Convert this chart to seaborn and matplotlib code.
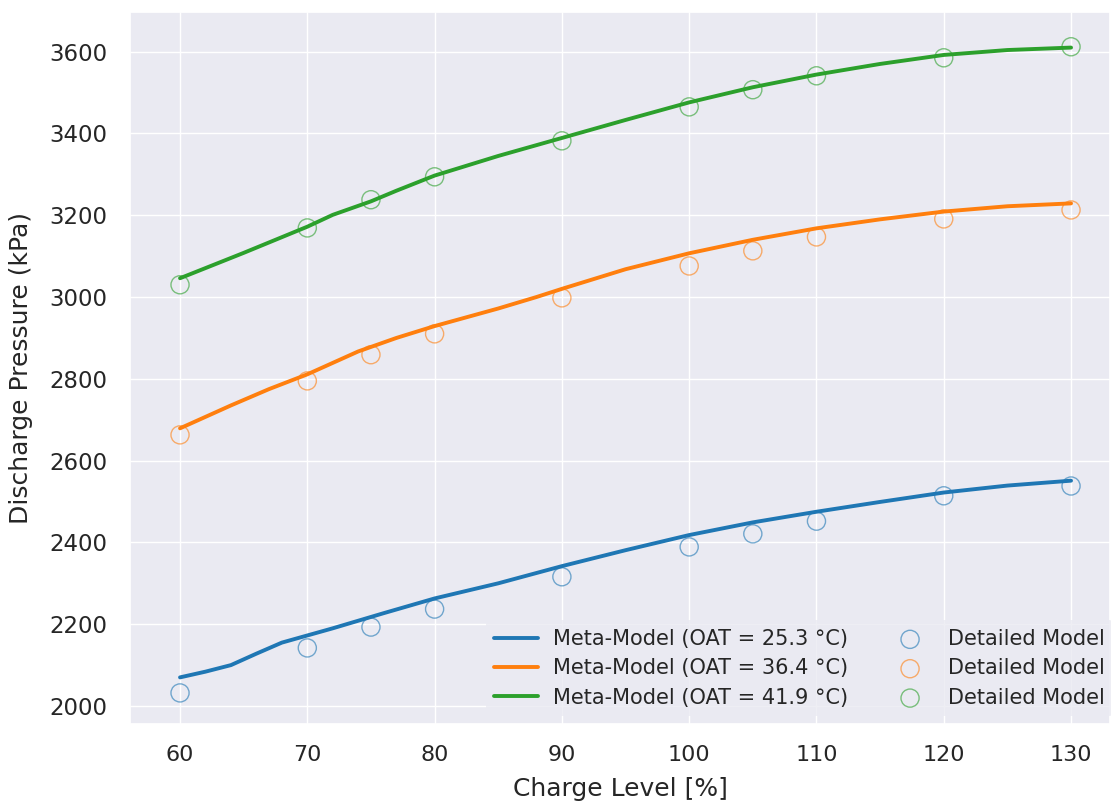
import numpy as np
import pandas as pd
import matplotlib
matplotlib.use("Agg")
import matplotlib.pyplot as plt
import seaborn as sns

# Meta-model curves (charge level in %, discharge pressure in kPa)
meta_x_low = [60, 62, 64, 66, 68, 72, 76, 80, 85, 90, 95, 100, 105, 110, 115, 120, 125, 130]
meta_y_low = [2070, 2084, 2100, 2128, 2155, 2190, 2227, 2263, 2300, 2342, 2381, 2418, 2449, 2475, 2499, 2522, 2539, 2551]

meta_x_mid = [60, 64, 67, 70, 74, 77, 80, 85, 88, 90, 95, 100, 105, 110, 115, 120, 125, 130]
meta_y_mid = [2679, 2735, 2775, 2811, 2867, 2900, 2929, 2972, 3000, 3020, 3068, 3107, 3140, 3168, 3190, 3209, 3222, 3229]

meta_x_high = [60, 65, 70, 72, 75, 77, 80, 85, 90, 95, 100, 105, 110, 115, 120, 125, 130]
meta_y_high = [3046, 3108, 3172, 3201, 3234, 3260, 3297, 3345, 3389, 3433, 3476, 3513, 3544, 3570, 3592, 3604, 3610]

# Detailed-model reference points
detail_x = [60, 70, 75, 80, 90, 100, 105, 110, 120, 130]
detail_y_low = [2032, 2142, 2193, 2237, 2316, 2389, 2421, 2452, 2514, 2538]
detail_y_mid = [2663, 2795, 2859, 2910, 2998, 3076, 3113, 3147, 3191, 3213]
detail_y_high = [3030, 3169, 3238, 3294, 3382, 3465, 3507, 3541, 3585, 3612]

oat_labels = ["Meta-Model (OAT = 25.3 °C)", "Meta-Model (OAT = 36.4 °C)", "Meta-Model (OAT = 41.9 °C)"]
detail_label = "Detailed Model"

x_ticks = [60, 70, 80, 90, 100, 110, 120, 130]
y_ticks = [2000, 2200, 2400, 2600, 2800, 3000, 3200, 3400, 3600]

sns.set_theme(style="darkgrid")
plt.rcParams["font.family"] = ["DejaVu Sans"]

colors = ["#1f77b4", "#ff7f0e", "#2ca02c"]

fig, ax = plt.subplots(figsize=(11.11, 8.05), dpi=100)
fig.subplots_adjust(left=130 / 1111, right=1110 / 1111, top=1 - 12 / 805, bottom=1 - 724 / 805)

meta = [(meta_x_low, meta_y_low), (meta_x_mid, meta_y_mid), (meta_x_high, meta_y_high)]
details = [detail_y_low, detail_y_mid, detail_y_high]

for (mx, my), lab, c in zip(meta, oat_labels, colors):
    df = pd.DataFrame({"x": mx, "y": my})
    sns.lineplot(data=df, x="x", y="y", ax=ax, color=c, linewidth=2.8, label=lab)

for dy, c in zip(details, colors):
    df = pd.DataFrame({"x": detail_x, "y": dy})
    sns.scatterplot(data=df, x="x", y="y", ax=ax, marker="o", s=170,
                    facecolor="none", edgecolor=c, linewidth=1.0, alpha=0.6,
                    label=detail_label)

ax.set_xlim(56.07, 133.06)
ax.set_ylim(1956, 3697)
ax.set_xticks(x_ticks)
ax.set_yticks(y_ticks)
ax.tick_params(axis="x", labelsize=16, pad=9)
ax.tick_params(axis="y", labelsize=16.5, pad=10)
ax.set_xlabel("Charge Level [%]", fontsize=18, labelpad=9)
ax.set_ylabel("Discharge Pressure (kPa)", fontsize=18, labelpad=12)

handles, labels = ax.get_legend_handles_labels()
ax.legend(handles, labels, ncol=2, loc="lower right", bbox_to_anchor=(1.006, 0.007),
          fontsize=15, frameon=True, edgecolor="none", columnspacing=1.9,
          borderaxespad=0.15, labelspacing=0.45, handlelength=2.1, handletextpad=0.75)

fig.savefig("out.png", dpi=100)
